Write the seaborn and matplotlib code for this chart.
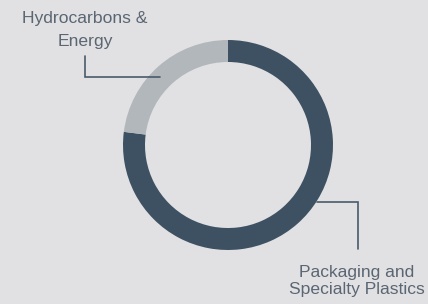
import matplotlib
matplotlib.use("Agg")
import matplotlib.pyplot as plt
import seaborn as sns

# segment shares (percent), drawn clockwise from 12 o'clock
segments = ["Packaging and\nSpecialty Plastics", "Hydrocarbons &\nEnergy"]
shares = [77, 23]
colors = ["#3e5163", "#b2b7bb"]

bg = "#e1e1e3"
text_color = "#5b6673"
line_color = "#4a5a6a"

sns.set_theme(style="white")
plt.rcParams["font.family"] = ["Liberation Sans", "DejaVu Sans"]

W, H = 428, 304
fig = plt.figure(figsize=(W / 100, H / 100), dpi=100, facecolor=bg)
ax = fig.add_axes([0, 0, 1, 1])
ax.set_facecolor(bg)

# donut
ax.pie(shares, colors=colors, startangle=90, counterclock=False,
       center=(228, H - 145), radius=105,
       wedgeprops=dict(width=22, linewidth=0))

ax.set_xlim(0, W)
ax.set_ylim(0, H)
ax.set_aspect("equal")
ax.axis("off")


def px(x, y):
    # pixel coords with y measured from the top
    return x, H - y


def label(text, x, baselines):
    for line, y in zip(text.split("\n"), baselines):
        ax.text(*px(x, y), line, ha="center", va="baseline", fontsize=12.6,
                color=text_color)


# leader lines
hx, hy = zip(px(160, 77), px(85, 77), px(85, 56))
ax.plot(hx, hy, color=line_color, lw=1.2, solid_joinstyle="miter")
label(segments[1], 85, [23, 46])

rx, ry = zip(px(317, 202), px(358, 202), px(358, 249))
ax.plot(rx, ry, color=line_color, lw=1.2, solid_joinstyle="miter")
label(segments[0], 357, [277, 294])

fig.savefig("out.png", dpi=100, facecolor=bg)
